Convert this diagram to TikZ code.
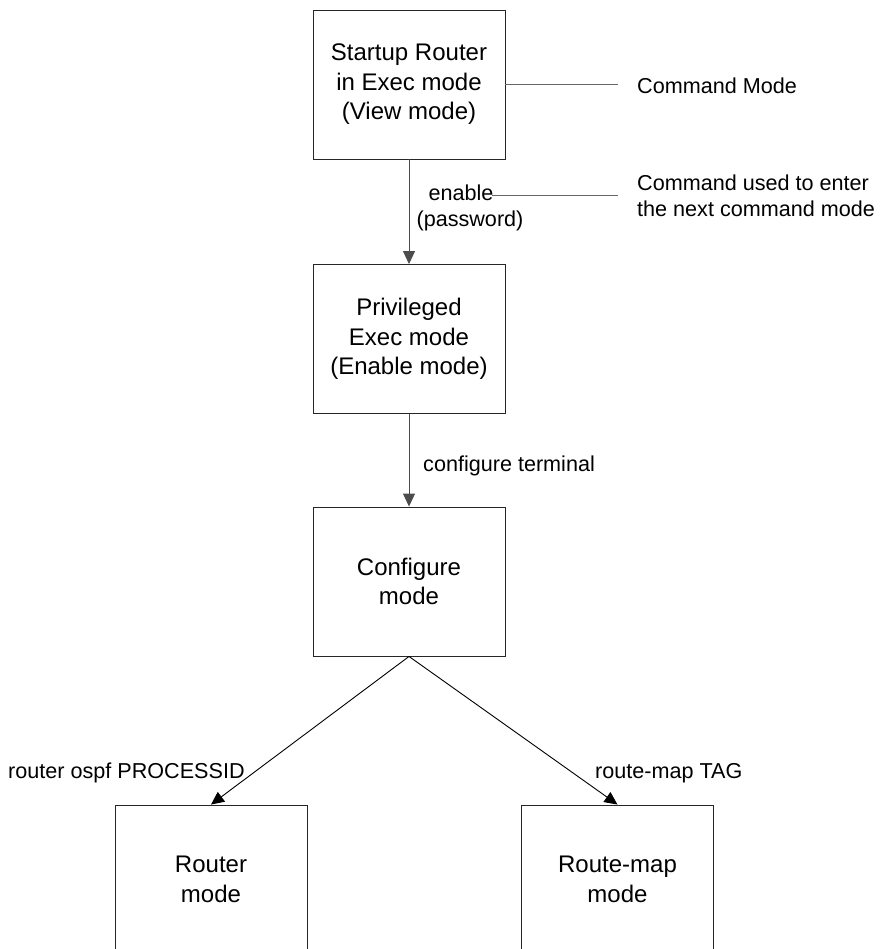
\documentclass[tikz,border=0pt]{standalone}
\usepackage{fontspec}
\setmainfont{Liberation Sans}
\usetikzlibrary{arrows.meta}
\tikzset{
  modebox/.style={draw=black!85, line width=0.9pt, minimum width=192pt,
    minimum height=149pt, align=center, font=\fontsize{24}{29.5}\selectfont},
  cmdtext/.style={font=\fontsize{21.6}{25.5}\selectfont, inner sep=0pt},
  flow/.style={draw=black!70, line width=0.9pt, -{Triangle[length=13pt,width=12pt]}},
  lead/.style={draw=black!60, line width=0.9pt}
}
\begin{document}
\begin{tikzpicture}[x=1pt,y=-1pt]
  \useasboundingbox (0,0) rectangle (889,949);
  \node[modebox] (exec) at (409,84.5) {Startup Router\\in Exec mode\\(View mode)};
  \node[modebox] (priv) at (409,339) {Privileged\\Exec mode\\(Enable mode)};
  \node[modebox] (config) at (409,581.5) {Configure\\mode};
  \node[modebox] (router) at (211,879.5) {Router\\mode};
  \node[modebox] (routemap) at (617.5,879.5) {Route-map\\mode};

  \node[cmdtext, anchor=west] (cmdmode) at (637,86) {Command Mode};
  \node[cmdtext, anchor=north west, align=left] (cmdnote) at (637,175)
    {Command used to enter\\the next command mode};
  \coordinate (modeend) at (618,86);
  \coordinate (noteend) at (618,195);
  \draw[lead] (exec.east) -- (exec.east -| modeend);

  \draw[flow] (exec) -- (priv);
  \node[cmdtext, anchor=base] (enable) at (461,201) {enable};
  \node[cmdtext, anchor=base] (passwd) at (470,227) {(password)};
  \draw[lead] ([xshift=-2pt,yshift=6pt]enable.base east) -- (noteend);

  \draw[flow] (priv) -- (config);
  \node[cmdtext, anchor=base west] (conft) at (423,471) {configure terminal};

  \draw[flow, draw=black] (config.south) -- (router.north);
  \draw[flow, draw=black] (config.south) -- (routemap.north);
  \node[cmdtext, anchor=base west] (ospf) at (8,778) {router ospf PROCESSID};
  \node[cmdtext, anchor=base west] (rmtag) at (595,778) {route-map TAG};
\end{tikzpicture}
\end{document}
